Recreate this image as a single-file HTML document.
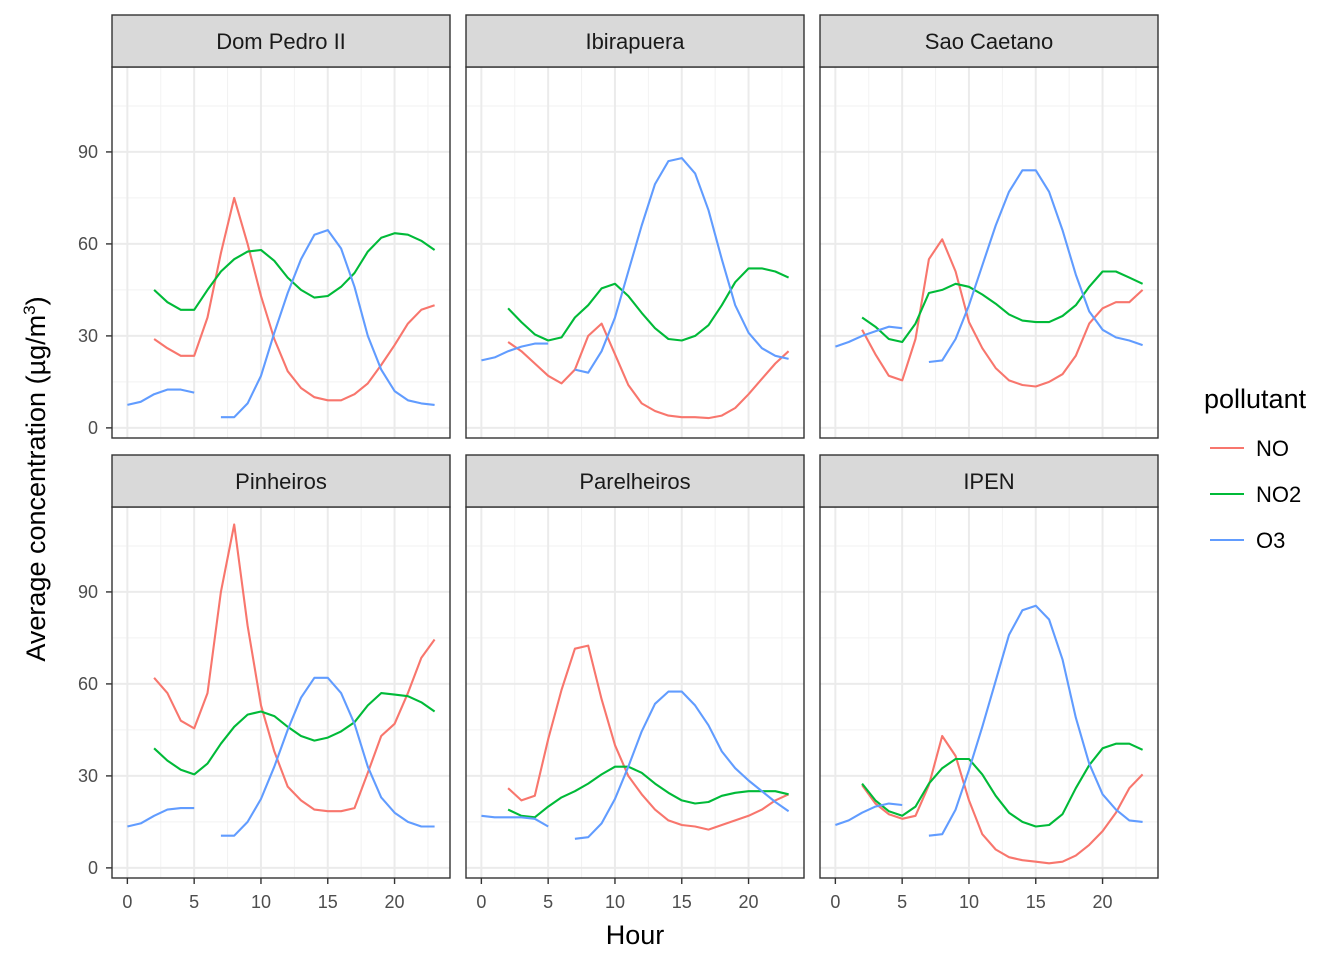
<!DOCTYPE html>
<html><head><meta charset="utf-8"><style>
html,body{margin:0;padding:0;background:#fff;}
svg text{font-family:"Liberation Sans",sans-serif;}
</style></head><body>
<svg id="chart" width="1344" height="960" xmlns="http://www.w3.org/2000/svg"></svg>
<script>
const hours = [0,1,2,3,4,5,6,7,8,9,10,11,12,13,14,15,16,17,18,19,20,21,22,23];
const stations = ["Dom Pedro II","Ibirapuera","Sao Caetano","Pinheiros","Parelheiros","IPEN"];
const pollutants = ["NO","NO2","O3"];
const colors = ["#F8766D","#00BA38","#619CFF"];
const yTicks = [0,30,60,90];
const xTicks = [0,5,10,15,20];
const N = null;
const noDomPedro = [N,N,29,26,23.5,23.5,36,57,75,60,43,29,18.5,13,10,9,9,11,14.5,20.5,27,34,38.5,40];
const no2DomPedro = [N,N,45,41,38.5,38.5,45,51,55,57.5,58,54.5,49,45,42.5,43,46,50.5,57.5,62,63.5,63,61,58];
const o3DomPedro = [7.5,8.5,11,12.5,12.5,11.5,N,3.5,3.5,8,17,31,44,55,63,64.5,58.5,46,30,19,12,9,8,7.5];
const noIbira = [N,N,28,25,21,17,14.5,19,30,34,24,14,8,5.5,4,3.5,3.5,3.2,4,6.5,11,16,21,25];
const no2Ibira = [N,N,39,34.5,30.5,28.5,29.5,36,40,45.5,47,43,37.5,32.5,29,28.5,30,33.5,40,47.5,52,52,51,49];
const o3Ibira = [22,23,25,26.5,27.5,27.5,N,19,18,25,36,51,66,79.5,87,88,83,71,55,40,31,26,23.5,22.5];
const noSao = [N,N,32,24,17,15.5,29,55,61.5,51,34.5,26,19.5,15.5,14,13.5,15,17.5,23.5,34,39,41,41,45];
const no2Sao = [N,N,36,33,29,28,34,44,45,47,46,43.5,40.5,37,35,34.5,34.5,36.5,40,46,51,51,49,47];
const o3Sao = [26.5,28,30,31.5,33,32.5,N,21.5,22,29,40,53,66,77,84,84,77,64.5,50,38,32,29.5,28.5,27];
const noPin = [N,N,62,57,48,45.5,57,90,112,79,53,38,26.5,22,19,18.5,18.5,19.5,31,43,47,57,68.5,74.5];
const no2Pin = [N,N,39,35,32,30.5,34,40.5,46,50,51,49.5,46,43,41.5,42.5,44.5,47.5,53,57,56.5,56,54,51];
const o3Pin = [13.5,14.5,17,19,19.5,19.5,N,10.5,10.5,15,22.5,33,45,55.5,62,62,57,47,33,23,18,15,13.5,13.5];
const noPar = [N,N,26,22,23.5,42,58,71.5,72.5,55,40,30,24,19,15.5,14,13.5,12.5,14,15.5,17,19,22,24];
const no2Par = [N,N,19,17,16.5,20,23,25,27.5,30.5,33,33,31,27.5,24.5,22,21,21.5,23.5,24.5,25,25,25,24];
const o3Par = [17,16.5,16.5,16.5,16,13.5,N,9.5,10,14.5,22.5,33,44.5,53.5,57.5,57.5,53,46.5,38,32.5,28.5,25,21.5,18.5];
const noIpen = [N,N,27,21,17.5,16,17,27,43,36.5,22,11,6,3.5,2.5,2,1.5,2,4,7.5,12,18,26,30.5];
const no2Ipen = [N,N,27.5,22,18.5,17,20,27.5,32.5,35.5,35.5,30.5,23.5,18,15,13.5,14,17.5,26,33.5,39,40.5,40.5,38.5];
const o3Ipen = [14,15.5,18,20,21,20.5,N,10.5,11,19,32,46,61,76,84,85.5,81,68,49,34,24,19,15.5,15];
const series = [[noDomPedro,no2DomPedro,o3DomPedro],[noIbira,no2Ibira,o3Ibira],[noSao,no2Sao,o3Sao],[noPin,no2Pin,o3Pin],[noPar,no2Par,o3Par],[noIpen,no2Ipen,o3Ipen]];

const svg = document.getElementById('chart');
const NS = "http://www.w3.org/2000/svg";
function mk(tag, attrs, parent, txt){const e=document.createElementNS(NS,tag);for(const k in attrs)e.setAttribute(k,attrs[k]);if(txt!==undefined)e.textContent=txt;(parent||svg).appendChild(e);return e;}
const colX=[112,466,820], PW=338;
const rowY=[67,507], PH=371;
const X0=-1.15,X1=24.15,Y0=-3.3,Y1=117.7;
function kebab(s){return s.toLowerCase().replace(/[^a-z0-9]+/g,'-').replace(/-$/,'');}

stations.forEach((st,i)=>{
  const c=i%3,r=Math.floor(i/3);
  const px=colX[c],py=rowY[r];
  const sx=v=>px+(v-X0)/(X1-X0)*PW;
  const sy=v=>py+PH-(v-Y0)/(Y1-Y0)*PH;
  const g=mk('g',{});
  
  
  mk('rect',{x:px,y:py,width:PW,height:PH,fill:'#fff'},g);
  [2.5,7.5,12.5,17.5,22.5].forEach(v=>mk('line',{x1:sx(v),x2:sx(v),y1:py,y2:py+PH,stroke:'#F2F2F2','stroke-width':1},g));
  [15,45,75,105].forEach(v=>mk('line',{x1:px,x2:px+PW,y1:sy(v),y2:sy(v),stroke:'#F2F2F2','stroke-width':1},g));
  xTicks.forEach(v=>mk('line',{x1:sx(v),x2:sx(v),y1:py,y2:py+PH,stroke:'#EBEBEB','stroke-width':2},g));
  yTicks.forEach(v=>mk('line',{x1:px,x2:px+PW,y1:sy(v),y2:sy(v),stroke:'#EBEBEB','stroke-width':2},g));
  series[i].forEach((arr,k)=>{
    let d='',pen=false;
    hours.forEach((h,j)=>{const v=arr[j];if(v===null){pen=false;return;}d+=(pen?'L':'M')+sx(h).toFixed(1)+','+sy(v).toFixed(1);pen=true;});
    const p=mk('path',{d:d,fill:'none',stroke:colors[k],'stroke-width':2.1,'stroke-linejoin':'round'},g);
    
    
  });
  mk('rect',{x:px,y:py,width:PW,height:PH,fill:'none',stroke:'#333','stroke-width':1.4},g);
  const strip=mk('rect',{x:px,y:py-52,width:PW,height:52,fill:'#D9D9D9',stroke:'#333','stroke-width':1.4},g);
  
  
  const stt=mk('text',{x:px+PW/2,y:py-18,'text-anchor':'middle','font-size':22,fill:'#1A1A1A'},g,st);
  
  
  if(c===0){
    yTicks.forEach(v=>{
      mk('line',{x1:px-6,x2:px,y1:sy(v),y2:sy(v),stroke:'#333','stroke-width':1.4},g);
      const t=mk('text',{x:px-14,y:sy(v)+6,'text-anchor':'end','font-size':18,fill:'#4D4D4D'},g,v);
      
      
    });
  }
  if(r===1){
    xTicks.forEach(v=>{
      mk('line',{x1:sx(v),x2:sx(v),y1:py+PH,y2:py+PH+6,stroke:'#333','stroke-width':1.4},g);
      const t=mk('text',{x:sx(v),y:py+PH+30,'text-anchor':'middle','font-size':18,fill:'#4D4D4D'},g,v);
      
      
    });
  }
});
const xt=mk('text',{x:635,y:944,'text-anchor':'middle','font-size':27,fill:'#000'},svg,'Hour');


const yt=mk('text',{x:0,y:0,transform:'translate(45,479) rotate(-90)','text-anchor':'middle','font-size':27,fill:'#000'});


yt.textContent='Average concentration (µg/m';
mk('tspan',{'font-size':17,dy:-10},yt,'3');
mk('tspan',{dy:10},yt,')');
const lg=mk('g',{});


mk('text',{x:1204,y:408,'font-size':27,fill:'#000'},lg,'pollutant');
pollutants.forEach((p,k)=>{
  const y=448+k*46;
  const e=mk('g',{},lg);
  
  
  mk('line',{x1:1210,x2:1244,y1:y,y2:y,stroke:colors[k],'stroke-width':2.1},e);
  mk('text',{x:1256,y:y+8,'font-size':22,fill:'#000'},e,p);
});
</script>
</body></html>
